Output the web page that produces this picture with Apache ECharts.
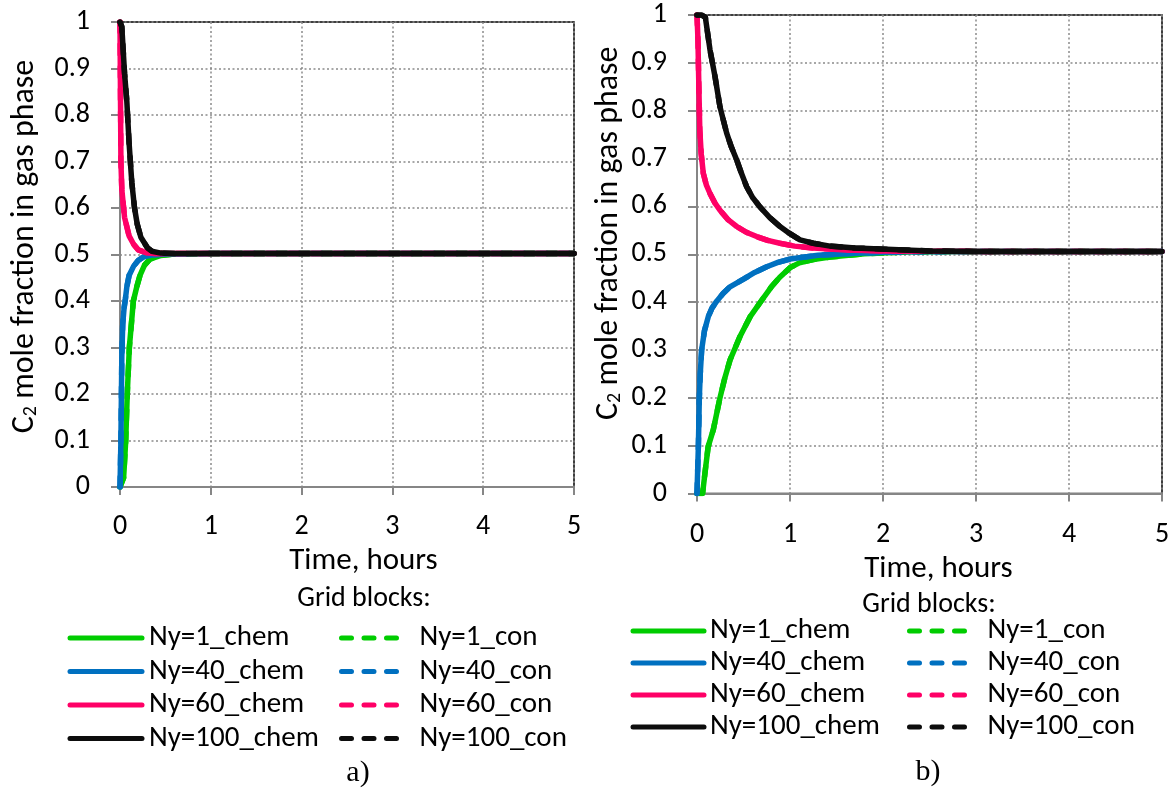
<!DOCTYPE html>
<html>
<head>
<meta charset="utf-8">
<script src="https://cdn.jsdelivr.net/npm/echarts@6/dist/echarts.min.js"></script>
<style>
  html, body { margin: 0; padding: 0; background: #ffffff; }
  #chart { width: 1176px; height: 790px; }
</style>
</head>
<body>
<div id="chart"></div>
<script>
// Axis ranges (hours, mole fraction)
const timeTicks = [0, 1, 2, 3, 4, 5];
const fracTicks = [0, 0.1, 0.2, 0.3, 0.4, 0.5, 0.6, 0.7, 0.8, 0.9, 1];

// Legend / series names
const gridNames = ['Ny=1', 'Ny=40', 'Ny=60', 'Ny=100'];
const lineColors = ['#00cc00', '#0070c0', '#ff0066', '#0d0d0d'];

// Panel a) — time (h) and C2 gas mole fraction
const aNy1T   = [0, 0.04, 0.063, 0.08, 0.103, 0.147, 0.184, 0.22, 0.27, 0.33, 0.45, 0.6, 1, 2, 3, 4, 5];
const aNy1V   = [0, 0.02, 0.1, 0.2, 0.3, 0.4, 0.43, 0.455, 0.477, 0.49, 0.498, 0.501, 0.502, 0.502, 0.502, 0.502, 0.502];
const aNy40T  = [0, 0.01, 0.02, 0.03, 0.045, 0.06, 0.075, 0.1, 0.15, 0.2, 0.26, 0.35, 0.5, 1, 2, 3, 4, 5];
const aNy40V  = [0, 0.1, 0.28, 0.35, 0.385, 0.405, 0.43, 0.455, 0.475, 0.487, 0.495, 0.499, 0.501, 0.502, 0.502, 0.502, 0.502, 0.502];
const aNy60T  = [0, 0.005, 0.01, 0.02, 0.05, 0.1, 0.15, 0.2, 0.3, 0.4, 1, 2, 3, 4, 5];
const aNy60V  = [1, 0.85, 0.7, 0.64, 0.58, 0.54, 0.522, 0.51, 0.503, 0.502, 0.502, 0.502, 0.502, 0.502, 0.502];
const aNy100T = [0, 0.02, 0.05, 0.075, 0.1, 0.13, 0.16, 0.19, 0.23, 0.3, 0.35, 0.45, 0.6, 1, 2, 3, 4, 5];
const aNy100V = [1, 0.99, 0.89, 0.83, 0.74, 0.655, 0.6, 0.565, 0.537, 0.515, 0.507, 0.503, 0.502, 0.502, 0.502, 0.502, 0.502, 0.502];

// Panel b)
const bNy1T   = [0, 0.06, 0.09, 0.12, 0.175, 0.247, 0.3, 0.355, 0.462, 0.57, 0.7, 0.8, 0.89, 1.0, 1.1, 1.25, 1.43, 1.8, 2.3, 3, 4, 5];
const bNy1V   = [0, 0, 0.05, 0.098, 0.133, 0.2, 0.242, 0.279, 0.328, 0.369, 0.405, 0.432, 0.452, 0.472, 0.482, 0.489, 0.494, 0.501, 0.505, 0.506, 0.506, 0.506];
const bNy40T  = [0, 0.015, 0.025, 0.035, 0.05, 0.08, 0.122, 0.16, 0.212, 0.28, 0.355, 0.5, 0.62, 0.75, 0.87, 1.0, 1.3, 1.7, 2.2, 3, 4, 5];
const bNy40V  = [0, 0.1, 0.2, 0.25, 0.3, 0.34, 0.37, 0.387, 0.402, 0.418, 0.432, 0.448, 0.462, 0.474, 0.483, 0.49, 0.498, 0.502, 0.505, 0.506, 0.506, 0.506];
const bNy60T  = [0, 0.01, 0.02, 0.03, 0.045, 0.068, 0.1, 0.14, 0.19, 0.247, 0.33, 0.427, 0.53, 0.642, 0.76, 0.89, 1.05, 1.25, 1.6, 2, 3, 4, 5];
const bNy60V  = [1, 0.95, 0.85, 0.76, 0.71, 0.669, 0.645, 0.627, 0.608, 0.592, 0.573, 0.558, 0.546, 0.537, 0.529, 0.523, 0.517, 0.513, 0.509, 0.507, 0.506, 0.506, 0.506];
const bNy100T = [0, 0.05, 0.09, 0.14, 0.194, 0.247, 0.319, 0.37, 0.427, 0.48, 0.534, 0.6, 0.677, 0.78, 0.892, 1.0, 1.108, 1.25, 1.43, 1.7, 1.97, 2.5, 3, 4, 5];
const bNy100V = [1, 1, 0.995, 0.927, 0.871, 0.808, 0.753, 0.724, 0.697, 0.668, 0.641, 0.618, 0.599, 0.577, 0.558, 0.543, 0.53, 0.523, 0.517, 0.513, 0.511, 0.507, 0.506, 0.506, 0.506];

const panelA = [[aNy1T, aNy1V], [aNy40T, aNy40V], [aNy60T, aNy60V], [aNy100T, aNy100V]];
const panelB = [[bNy1T, bNy1V], [bNy40T, bNy40V], [bNy60T, bNy60V], [bNy100T, bNy100V]];

const FONT = 'Carlito, Lato, sans-serif';
const AXIS_GRAY = '#868686';
const GRID_GRAY = '#8a8a8a';
const LINE_W = 5.5;
const DASH = [10, 12.5];

function pairs(t, v) { return t.map((x, i) => [x, v[i]]); }

function axesFor(gridIndex, o) {
  const x = {
    type: 'value', gridIndex,
    min: timeTicks[0], max: timeTicks[timeTicks.length - 1], interval: 1,
    name: 'Time, hours', nameLocation: 'middle', nameGap: o.xNameGap,
    nameTextStyle: { fontFamily: FONT, fontSize: 31, color: '#000', padding: o.xNamePad },
    axisLine: { show: true, onZero: false, lineStyle: { color: AXIS_GRAY, width: 2 } },
    axisTick: { show: true, length: 8, lineStyle: { color: AXIS_GRAY, width: 2 } },
    axisLabel: { fontFamily: FONT, fontSize: 28, color: '#000', margin: o.xLabelMargin },
    splitLine: { show: true, lineStyle: { color: GRID_GRAY, width: 1.5, type: [2, 2.5] } }
  };
  const y = {
    type: 'value', gridIndex,
    min: fracTicks[0], max: fracTicks[fracTicks.length - 1], interval: 0.1,
    name: 'C{sub|2} mole fraction in gas phase', nameLocation: 'middle', nameGap: o.yNameGap, nameRotate: 90,
    nameTextStyle: {
      fontFamily: FONT, fontSize: 32, color: '#000', padding: o.yNamePad,
      rich: { sub: { fontFamily: FONT, fontSize: 20, verticalAlign: 'bottom', padding: [13, 0, 0, 0], color: '#000' } }
    },
    axisLine: { show: true, onZero: false, lineStyle: { color: AXIS_GRAY, width: 2 } },
    axisTick: { show: true, length: 9, lineStyle: { color: AXIS_GRAY, width: 2 } },
    axisLabel: { fontFamily: FONT, fontSize: 28, color: '#000', margin: 30 },
    splitLine: { show: true, lineStyle: { color: GRID_GRAY, width: 1.5, type: [2, 2.5] } }
  };
  return [x, y];
}

const [xa, ya] = axesFor(0, { xNameGap: 55, xNamePad: [0, 0, 0, 33], xLabelMargin: 26, yNameGap: 79, yNamePad: [0, 0, 0, 16] });
const [xb, yb] = axesFor(1, { xNameGap: 49, xNamePad: [0, 0, 0, 18], xLabelMargin: 27, yNameGap: 72, yNamePad: [0, 0, 0, 42] });

const series = [];
[panelA, panelB].forEach((panel, gi) => {
  panel.forEach(([t, v], k) => {
    const data = pairs(t, v);
    // "_con" runs coincide with the "_chem" runs; drawn first so the solid line stays on top
    series.push({
      name: gridNames[k] + '_con', type: 'line', xAxisIndex: gi, yAxisIndex: gi,
      data, symbol: 'none', animation: false, silent: true,
      lineStyle: { color: lineColors[k], width: LINE_W, type: DASH, cap: 'round', join: 'round' },
      itemStyle: { color: lineColors[k] }
    });
    series.push({
      name: gridNames[k] + '_chem', type: 'line', xAxisIndex: gi, yAxisIndex: gi,
      data, symbol: 'none', animation: false, silent: true,
      lineStyle: { color: lineColors[k], width: LINE_W, cap: 'round', join: 'round' },
      itemStyle: { color: lineColors[k] }
    });
  });
});

function legendCol(left, top, width, suffix, dashed, gap, textPad) {
  return {
    orient: 'vertical', left, top, padding: 0,
    itemWidth: width, itemHeight: 14, itemGap: gap,
    selectedMode: false,
    data: gridNames.map(n => n + suffix),
    textStyle: { fontFamily: FONT, fontSize: 29, color: '#000', lineHeight: 29, padding: [0, 0, 0, textPad] },
    itemStyle: { opacity: 0 },
    lineStyle: { width: 5, type: dashed ? DASH : 'solid', cap: 'round' }
  };
}

const labelStyle = (text, font) => ({ text, font, fill: '#000', textAlign: 'center', textVerticalAlign: 'middle' });

const option = {
  backgroundColor: '#ffffff',
  animation: false,
  grid: [
    { left: 120, top: 22, width: 454, height: 465, show: true, borderColor: '#000', borderWidth: 1.5, containLabel: false },
    { left: 697, top: 15, width: 465, height: 478.5, show: true, borderColor: '#000', borderWidth: 1.5, containLabel: false }
  ],
  xAxis: [xa, xb],
  yAxis: [ya, yb],
  legend: [
    legendCol(67.5, 623.5, 72, '_chem', false, 4.5, 2),
    legendCol(339, 623.5, 62, '_con', true, 4.5, 11),
    legendCol(630.5, 616.5, 71, '_chem', false, 3, 1),
    legendCol(907, 616.5, 62, '_con', true, 3, 11)
  ],
  graphic: [
    { type: 'text', x: 364, y: 599, style: labelStyle('Grid blocks:', '28px ' + FONT) },
    { type: 'text', x: 929, y: 605, style: labelStyle('Grid blocks:', '28px ' + FONT) },
    { type: 'text', x: 358, y: 773, style: labelStyle('a)', '30px "Liberation Serif", serif') },
    { type: 'text', x: 928, y: 772, style: labelStyle('b)', '30px "Liberation Serif", serif') }
  ],
  series
};

const chart = echarts.init(document.getElementById('chart'), null, { renderer: 'canvas' });
chart.setOption(option);
</script>
</body>
</html>
